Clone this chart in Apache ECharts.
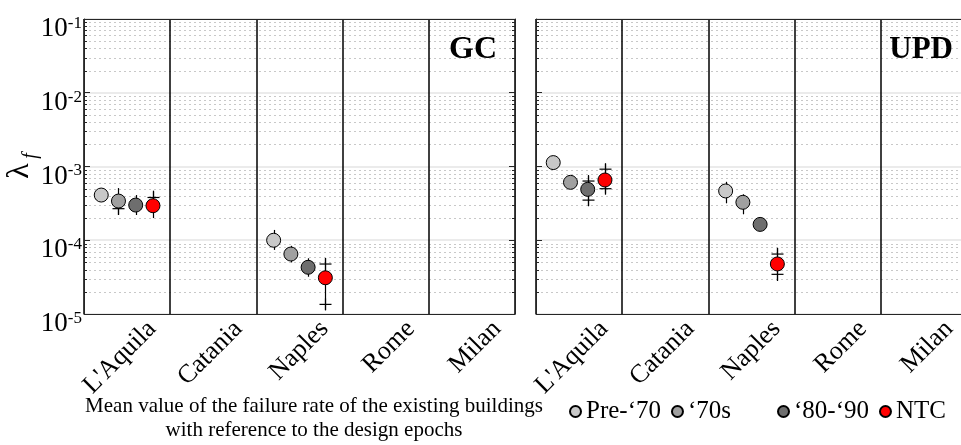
<!DOCTYPE html>
<html><head><meta charset="utf-8">
<script src="https://cdn.jsdelivr.net/npm/echarts@6/dist/echarts.min.js"></script>
<style>html,body{margin:0;padding:0;background:#fff}#c{width:961px;height:445px}</style>
</head><body><div id="c"></div><script>
const cities = ["L'Aquila", 'Catania', 'Naples', 'Rome', 'Milan'];
const epochs = ['Pre-‘70', '‘70s', '‘80-‘90', 'NTC'];
const panelNames = ['GC', 'UPD'];
const yTicks = [1e-5, 1e-4, 1e-3, 1e-2, 1e-1];
const minorMultipliers = [2, 3, 4, 5, 6, 7, 8, 9];
// per city: [mean, whiskerLow, whiskerHigh, plusLow, plusHigh]  (null = not shown)
const gcPre70 = [[4.1e-4, null, null, null, null], null, [1.0e-4, 7.4e-5, 1.38e-4, null, null], null, null];
const gc70s   = [[3.4e-4, 2.2e-4, 5.1e-4, 2.68e-4, null], null, [6.5e-5, 5.0e-5, 8.4e-5, null, null], null, null];
const gc8090  = [[3.0e-4, 2.2e-4, 4.1e-4, null, null], null, [4.3e-5, 3.2e-5, 5.7e-5, null, null], null, null];
const gcNTC   = [[2.94e-4, 2.0e-4, 4.7e-4, null, 3.8e-4], null, [3.1e-5, 1.13e-5, 5.7e-5, 1.35e-5, 4.76e-5], null, null];
const updPre70 = [[1.13e-3, null, null, null, null], null, [4.66e-4, 3.17e-4, 6.2e-4, null, null], null, null];
const upd70s   = [[6.1e-4, null, null, null, null], null, [3.27e-4, 2.25e-4, 4.2e-4, null, null], null, null];
const upd8090  = [[4.9e-4, 2.9e-4, 7.4e-4, 3.5e-4, 6.35e-4], null, [1.64e-4, null, null, null, null], null, null];
const updNTC   = [[6.56e-4, 4.3e-4, 1.08e-3, 5.0e-4, 9.2e-4], null, [4.77e-5, 2.8e-5, 7.9e-5, 3.45e-5, 6.5e-5], null, null];

const panelData = [[gcPre70, gc70s, gc8090, gcNTC], [updPre70, upd70s, upd8090, updNTC]];
const epochColors = ['#c8c8c8', '#a0a0a0', '#6e6e6e', '#ff0000'];
const FONT = "'Liberation Serif','Times New Roman',serif";
const AX = '#262626';

const minorVals = [];
for (let d = 0; d < yTicks.length - 1; d++) for (const m of minorMultipliers) minorVals.push(yTicks[d] * m);

const grids = [
  {left: 84, top: 19, width: 431, height: 295, outerBoundsMode: 'none', containLabel: false},
  {left: 536, top: 19, width: 431, height: 295, outerBoundsMode: 'none', containLabel: false}
];
const xAxes = [], yAxes = [], series = [];
panelNames.forEach((p, g) => {
  xAxes.push({
    gridIndex: g, type: 'category', data: cities, position: 'bottom',
    axisLine: {onZero: false, lineStyle: {color: AX, width: 1}},
    axisTick: {inside: true, alignWithLabel: true, length: 5, lineStyle: {color: AX}},
    axisLabel: {interval: 0, rotate: 45, fontSize: 26, fontFamily: FONT, color: '#000', margin: -14, verticalAlign: 'top', lineHeight: 71},
    splitLine: {show: true, lineStyle: {color: '#000', width: 1.5}}
  });
  xAxes.push({
    gridIndex: g, type: 'category', data: cities, position: 'top',
    axisLine: {onZero: false, lineStyle: {color: AX, width: 1}},
    axisTick: {inside: true, alignWithLabel: true, length: 5, lineStyle: {color: AX}},
    axisLabel: {show: false}, splitLine: {show: false}
  });
  xAxes.push({gridIndex: g, type: 'value', min: 0, max: cities.length, show: false});
  const yLeft = {
    gridIndex: g, type: 'log', logBase: 10, min: yTicks[0], max: yTicks[yTicks.length - 1], position: 'left',
    axisLine: {show: true, onZero: false, lineStyle: {color: AX, width: 1}},
    axisTick: {show: true, inside: true, length: 6, lineStyle: {color: AX}},
    splitLine: {show: true, lineStyle: {color: '#e4e4e4', width: 1.5}},
    axisLabel: {show: false}
  };
  if (g === 0) {
    yLeft.axisLabel = {
      show: true, margin: 2, padding: [20, 0, 0, 0],
      formatter: v => '{b|10}{s|' + Math.round(Math.log10(v)) + '}',
      rich: {
        b: {fontSize: 27, fontFamily: FONT, color: '#000', lineHeight: 28},
        s: {fontSize: 17, fontFamily: FONT, color: '#000', lineHeight: 17, verticalAlign: 'top'}
      }
    };
  }
  yAxes.push(yLeft);
  yAxes.push({
    gridIndex: g, type: 'log', logBase: 10, min: yTicks[0], max: yTicks[yTicks.length - 1], position: 'right',
    axisLine: {show: true, onZero: false, lineStyle: {color: AX, width: 1}},
    axisTick: {show: true, inside: true, length: 6, lineStyle: {color: AX}},
    axisLabel: {show: false}, splitLine: {show: false}
  });
  const xi = g * 3 + 2, yi = g * 2;
  series.push({
    type: 'custom', xAxisIndex: xi, yAxisIndex: yi, silent: true, z: -1,
    data: minorVals.map(v => [0, v]),
    renderItem: (params, api) => {
      const cs = params.coordSys;
      const y = Math.round(api.coord([0, api.value(1)])[1]) + 0.5;
      return {type: 'line', shape: {x1: cs.x, y1: y, x2: cs.x + cs.width, y2: y}, style: {stroke: '#c8c8c8', lineWidth: 1, lineDash: [2, 3]}};
    }
  });
  series.push({
    type: 'custom', xAxisIndex: xi, yAxisIndex: yi, silent: true, z: 2,
    data: minorVals.map(v => [0, v]),
    renderItem: (params, api) => {
      const cs = params.coordSys;
      const y = Math.round(api.coord([0, api.value(1)])[1]) + 0.5;
      return {type: 'group', children: [
        {type: 'line', shape: {x1: cs.x, y1: y, x2: cs.x + 3, y2: y}, style: {stroke: AX, lineWidth: 1}},
        {type: 'line', shape: {x1: cs.x + cs.width, y1: y, x2: cs.x + cs.width - 3, y2: y}, style: {stroke: AX, lineWidth: 1}}
      ]};
    }
  });
  panelData[g].forEach((arr, k) => {
    const rows = [];
    arr.forEach((d, i) => { if (d) rows.push({x: i + (k + 1) / (epochs.length + 1), d}); });
    const barRows = rows.filter(r => r.d[1] != null || r.d[3] != null || r.d[4] != null);
    series.push({
      type: 'custom', xAxisIndex: xi, yAxisIndex: yi, silent: true, z: 3,
      data: barRows.map(r => [r.x, r.d[0]]),
      renderItem: (params, api) => {
        const r = barRows[params.dataIndex];
        const cx = Math.round(api.coord([r.x, r.d[0]])[0]) + 0.5;
        const ch = [];
        if (r.d[1] != null) {
          ch.push({type: 'line', shape: {x1: cx, y1: api.coord([r.x, r.d[1]])[1], x2: cx, y2: api.coord([r.x, r.d[2]])[1]}, style: {stroke: '#000', lineWidth: 1.2}});
        }
        [r.d[3], r.d[4]].forEach(pv => {
          if (pv != null) {
            const py = api.coord([r.x, pv])[1];
            ch.push({type: 'line', shape: {x1: cx - 6, y1: py, x2: cx + 6, y2: py}, style: {stroke: '#000', lineWidth: 1.2}});
            ch.push({type: 'line', shape: {x1: cx, y1: py - 6, x2: cx, y2: py + 6}, style: {stroke: '#000', lineWidth: 1.2}});
          }
        });
        return {type: 'group', children: ch};
      }
    });
    series.push({
      name: epochs[k], type: 'scatter', xAxisIndex: xi, yAxisIndex: yi, z: 4,
      symbol: 'circle', symbolSize: 14,
      itemStyle: {color: epochColors[k], borderColor: '#000', borderWidth: 1, opacity: 1},
      emphasis: {disabled: true},
      data: rows.map(r => [r.x, r.d[0]])
    });
  });
});

// rotated y-axis title (λ_f)
series.push({
  type: 'custom', coordinateSystem: 'none', silent: true, z: 5,
  data: [[0]],
  renderItem: () => ({
    type: 'group', x: 20, y: 168, rotation: Math.PI / 2,
    children: [
      {type: 'text', x: -3, y: 0, style: {text: 'λ', fontSize: 32, fontFamily: FONT, fill: '#000', align: 'center', verticalAlign: 'middle'}},
      {type: 'text', x: 12, y: 11, style: {text: 'f', fontSize: 20, fontStyle: 'italic', fontFamily: FONT, fill: '#000', align: 'center', verticalAlign: 'middle'}}
    ]
  })
});

const legendText = {fontSize: 25, fontFamily: FONT, color: '#000'};
const option = {
  animation: false,
  backgroundColor: '#fff',
  grid: grids,
  xAxis: xAxes,
  yAxis: yAxes,
  series,
  title: [
    {text: panelNames[0], right: 464, top: 34, padding: 0, textStyle: {fontSize: 32, fontWeight: 'bold', fontFamily: FONT, color: '#000'}},
    {text: panelNames[1], right: 8, top: 34, padding: 0, textStyle: {fontSize: 31, fontWeight: 'bold', fontFamily: FONT, color: '#000'}},
    {text: 'Mean value of the failure rate of the existing buildings\nwith reference to the design epochs', left: 314, top: 394, padding: 0, textAlign: 'center',
     textStyle: {fontSize: 21, fontWeight: 'normal', lineHeight: 24, fontFamily: FONT, color: '#000'}}
  ],
  legend: [
    {data: [epochs[0], epochs[1]], left: 569, top: 399, padding: 0, icon: 'circle', itemWidth: 11, itemHeight: 11, itemGap: 10, selectedMode: false, textStyle: legendText},
    {data: [epochs[2], epochs[3]], left: 777, top: 399, padding: 0, icon: 'circle', itemWidth: 11, itemHeight: 11, itemGap: 10, selectedMode: false, textStyle: legendText}
  ]
};
const chart = echarts.init(document.getElementById('c'), null, {renderer: 'canvas'});
chart.setOption(option);
</script></body></html>
